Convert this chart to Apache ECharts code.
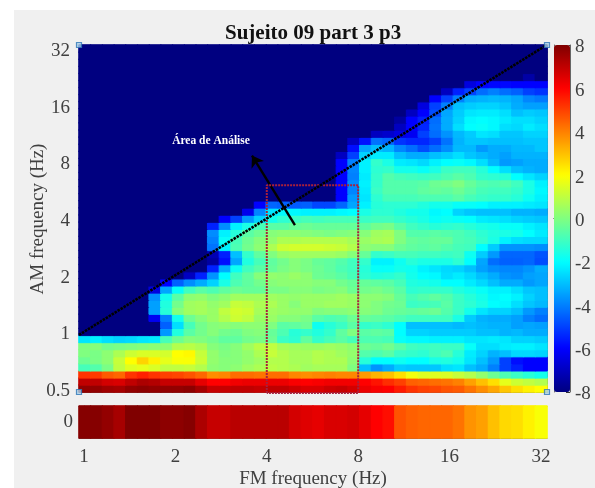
<!DOCTYPE html>
<html><head><meta charset="utf-8">
<script src="https://cdn.jsdelivr.net/npm/echarts@6/dist/echarts.min.js"></script>
<style>html,body{margin:0;padding:0;background:#fff}#c{position:absolute;left:0;top:0;width:595px;height:488px}</style>
</head><body><div id="c"></div>
<script>
const N=-8;
const fmTicks=[1,2,4,8,16,32];
const amTicks=[0.5,1,2,4,8,16,32];
const scaleTicks=[-8,-6,-4,-2,0,2,4,6,8];
// heat values, row 0 = lowest AM band, 40 FM columns
const modulation=[7.9,7.9,7.7,7.4,8,8,8,7.8,7.8,7.9,7.3,6.9,6.9,7.1,7.1,7.1,7.1,7.1,6.7,6.5,6.4,6.6,6.6,6.7,6.4,6,5.8,4.7,4.5,4.4,4.4,4.4,4.2,3.7,3.5,3,2.6,2.5,2.2,1.9];
const r00=[7.7,7.7,7.5,7.4,7.7,7.8,7.7,7.7,7.7,7.8,7.4,6.9,6.9,7,7,6.9,7,7,6.8,6.6,6.6,6.8,6.9,6.7,6.3,6.1,6,5.6,5.2,5,4.9,4.7,4.6,4.2,3.8,3.4,2.9,2.5,2.2,2];
const r01=[7,7,6.7,6.6,7,7.3,7.2,6.9,6.9,6.9,6.4,6,6,6.2,6.3,6.3,6.3,6.3,6.1,6,6.1,6.2,6.2,6.2,6,5.7,5.3,5,4.5,4.4,4.3,4.2,4,3.5,3,2.5,1.6,1.2,1,.8];
const r02=[5.2,5.1,4.6,4.4,5.2,5.5,5.2,5,4.9,4.7,4.4,3.8,3.9,4.3,4.3,4.2,4.3,4.3,3.9,3.8,3.9,4,3.9,3.9,3.6,3.2,3,2.5,1.8,1.5,1.5,1.4,1.1,.8,.3,-.3,-.8,-1.1,-1.4,-1.7];
const r03=[-.9,-.7,-.1,1,1.5,1.6,1.4,1,1,1.1,.8,.2,.1,.2,.5,.7,.9,.8,.7,.5,.6,.6,.6,0,-3,-3.7,-3.3,-2.8,-2.9,-2.9,-2.9,-2.5,-2.4,-3,-3.3,-4,-5,-5.5,-6,-6];
const r04=[-.3,-.1,.2,1.1,2,2.7,2.2,1.6,1.9,1.9,1.2,.3,.1,.1,.3,.5,.8,.8,.6,.6,.8,.7,.7,.2,-1.4,-2,-2,-1.8,-2,-2,-1.6,-1.5,-1.7,-2.4,-3,-3.6,-5,-5.8,-6,-6];
const r05=[0,-.1,.2,.7,1.2,1.4,1.4,1.3,2,2.1,1.1,.3,0,.1,.3,.7,1.1,.8,.6,.6,.8,.7,.5,.3,-.7,-.8,-.6,-1.1,-1.2,-1.3,-1,-.8,-1.4,-2.3,-2.7,-3.2,-3,-2.6,-2.6,-2.7];
const r06=[0,.1,-.2,-.1,0,.1,.2,.2,.8,.9,.7,.1,-.1,.1,.5,.9,1,.6,.5,.4,.4,.5,.4,.2,-.3,-.4,-.2,-.6,-1,-1.1,-1,-1.1,-1.1,-1.9,-2.5,-2.5,-2.3,-2.2,-2.2,-2.4];
const r07=[-2.4,-2.2,-2.5,-2.7,-2.6,-2.4,-2.3,-.9,-.3,.1,0,-.2,-.5,-.5,-.2,-.1,-.3,-1.1,-1.3,-.5,-1.2,-.9,-.6,-.9,-.8,-.8,-.9,-1.9,-2.1,-2.1,-2.2,-2.2,-2.2,-2.4,-2.4,-2.3,-2.4,-2.7,-2.7,-2.8];
const r08=[N,N,N,N,N,N,N,-3.6,-1.5,-.6,-.2,.1,-.2,-.3,0,.1,-.4,-.8,-1.4,-1.2,-1.5,-1.2,-.5,0,-.6,-.5,-.6,-2,-2.7,-2.7,-2.8,-2.8,-2.8,-2.8,-3,-3,-3.2,-3.1,-3.3,-3.3];
const r09=[N,N,N,N,N,N,N,-4.5,-2.5,-.9,-.2,.1,.2,.1,.2,.2,0,-.6,-.5,-.3,-1.8,-1.4,-1.1,-.6,-1.2,-1.1,-1.3,-2,-3,-3,-3,-3,-3.1,-3,-3.1,-3.2,-3.2,-3.5,-3.4,-3.5];
const r10=[N,N,N,N,N,N,-6.2,-4,-1.7,-.3,.1,.4,.8,1.2,1,.4,.4,.1,.1,-.1,-.6,-.8,-.7,-.3,-.4,-.5,-.6,-.8,-1,-1,-1,-1,-1.6,-2.8,-3.2,-3.3,-3.3,-3.5,-4,-4.3];
const r11=[N,N,N,N,N,N,-3.5,-1.4,.1,.5,.6,.4,1,1.3,1.2,.6,.5,.4,.3,.3,0,.1,.1,.2,.1,0,-.3,-.4,-.5,-.4,-.3,-.7,-1.1,-1.7,-2.4,-2.7,-2.7,-3,-3.6,-4];
const r12=[N,N,N,N,N,N,-3.5,-1.5,-.2,.5,.6,.3,.5,1.1,1,.7,.7,.4,.1,.4,.4,.5,.5,.4,.2,0,-.2,-.3,-1.1,-1,-.9,-.6,-1.1,-1.3,-1.6,-2,-2.1,-2.5,-2.9,-3.1];
const r13=[N,N,N,N,N,N,-3.8,-1.7,-.6,.2,.3,0,.2,.5,.5,.5,.5,.4,.3,.4,.4,.4,.5,.4,.2,.2,.1,-.4,-.9,-.7,-.5,-.7,-1.1,-1.4,-1.7,-2.1,-2,-2.2,-2.7,-3];
const r14=[N,N,N,N,N,N,-6.5,-3.4,-1.9,-1,-.6,-.8,-.5,-.3,-.4,-.4,-.1,-.1,.1,.1,-.1,0,.1,-.3,-.2,-.1,-.3,-.6,-1.3,-1.2,-1.2,-1.2,-1.5,-1.7,-1.9,-2.2,-2.2,-2.5,-2.9,-3];
const r15=[N,N,N,N,N,N,N,-6,-4.5,-3.8,-3.3,-2.7,-1.6,-.8,-.5,-.2,.1,.2,.2,.2,.1,.1,-.2,-.4,-.4,-.5,-.6,-.9,-1.5,-1.6,-1.7,-2,-2,-2.3,-2.6,-3,-3.3,-3.3,-3.6,-3.4];
const r16=[N,N,N,N,N,N,N,N,N,-7,-5.5,-3.7,-2,-1,-.5,.1,.3,.2,.4,.2,-.3,-.4,-.6,-.9,-1.3,-1.5,-1.4,-1.2,-1.7,-2,-2.1,-2.5,-2.3,-2.6,-3,-3.3,-3.7,-3.8,-3.5,-3.4];
const r17=[N,N,N,N,N,N,N,N,N,N,N,-5.5,-3.3,-1.8,-1,-.6,-.4,-.1,.1,-.1,-.3,-.5,-.8,-1,-1.4,-1.9,-1.9,-1.7,-1.8,-2.2,-2.4,-2.6,-2.7,-3,-3.5,-3.8,-3.9,-3.9,-3.7,-3.3];
const r18=[N,N,N,N,N,N,N,N,N,N,N,-7.5,-5.8,-3.4,-1.5,-.9,-.5,-.2,.1,-.1,-.4,-.5,-.7,-1,-1.2,-2.2,-2.2,-1.8,-1.4,-1.6,-1.6,-1.6,-1.3,-2,-3.4,-4.3,-4.5,-4.5,-4.4,-4.8];
const r19=[N,N,N,N,N,N,N,N,N,N,N,-7.2,-5.5,-3,-1.2,-.5,0,.4,.5,.5,.5,.5,.4,.1,-.4,-1.2,-1.1,-.9,-.9,-1,-1,-1.1,-1,-1.8,-2.8,-3.6,-4.4,-4.4,-4.4,-4.7];
const r20=[N,N,N,N,N,N,N,N,N,N,N,-4.2,-2.2,-.8,-.2,.2,.7,1.2,1.3,1.3,1.3,1.2,1.1,.8,.2,.1,.1,-.3,-.5,-.6,-.5,-.7,-.9,-1,-2,-2.8,-3.7,-3.7,-3.7,-3.8];
const r21=[N,N,N,N,N,N,N,N,N,N,N,-4,-1.9,-.9,-.3,.1,.3,.7,.7,.8,.8,.8,.8,.6,.4,.6,.7,0,-.4,-.5,-.4,-.4,-.8,-.9,-1.2,-1.6,-2.2,-2.5,-2.6,-2.6];
const r22=[N,N,N,N,N,N,N,N,N,N,N,-3.8,-2.2,-1.4,-.6,-.3,.1,.2,.2,.1,0,-.1,0,.1,.1,.5,.6,0,-.7,-.7,-.6,-.7,-.8,-1,-1.3,-1.5,-1.6,-1.7,-2,-2.3];
const r23=[N,N,N,N,N,N,N,N,N,N,N,-5.5,-3.8,-2.2,-1.6,-.9,-.6,-.6,-.4,-.3,-.4,-.4,-.4,-.4,-.5,-.2,-.1,-.6,-1,-1.2,-1.4,-1.3,-1.2,-1.4,-1.6,-1.7,-1.9,-1.9,-2.2,-2.4];
const r24=[N,N,N,N,N,N,N,N,N,N,N,N,-6,-5,-3.6,-2.7,-1.7,-1.3,-1.1,-.9,-1,-.9,-.9,-.9,-1.1,-1,-1,-1.2,-1.4,-1.6,-1.9,-1.8,-1.9,-2,-2.3,-2.4,-2.5,-2.7,-2.8,-2.9];
const r25=[N,N,N,N,N,N,N,N,N,N,N,N,N,N,-6.3,-3.9,-2.4,-2.1,-2.1,-2.2,-2.2,-2.2,-2.1,-2,-1.6,-1.3,-1.3,-1.5,-1.7,-1.7,-2.1,-2,-2.7,-2.9,-3,-3,-3,-3.2,-3.2,-3.3];
const r26=[N,N,N,N,N,N,N,N,N,N,N,N,N,N,N,-6,-4.4,-4.5,-4.6,-4.5,-4.9,-4.9,-4.4,-3.4,-2.2,-1.4,-1.3,-1.3,-1.3,-1.5,-1.7,-1.7,-1.9,-1.9,-2,-2.2,-2.2,-2.2,-2.3,-2.4];
const r27=[N,N,N,N,N,N,N,N,N,N,N,N,N,N,N,N,N,N,N,N,N,N,-6,-3.6,-2.4,-1.3,-.9,-.9,-.9,-.8,-.8,-.8,-.6,-.9,-1.1,-1.2,-1.2,-1.4,-1.8,-2.2];
const r28=[N,N,N,N,N,N,N,N,N,N,N,N,N,N,N,N,N,N,N,N,N,N,-6,-3.9,-2.3,-1.1,-.7,-.7,-.7,-.5,-.4,-.5,-.3,-.6,-.9,-1,-1,-1.2,-1.6,-2.1];
const r29=[N,N,N,N,N,N,N,N,N,N,N,N,N,N,N,N,N,N,N,N,N,N,-6,-3.8,-2.2,-1.2,-.7,-.7,-.7,-.6,-.3,-.2,0,-.4,-.7,-.8,-.7,-1,-1.6,-2.2];
const r30=[N,N,N,N,N,N,N,N,N,N,N,N,N,N,N,N,N,N,N,N,N,N,-6,-4,-2.3,-1.2,-.7,-.9,-1,-1.1,-1,-.8,-.6,-.8,-1.2,-1.3,-1.4,-2,-2.4,-2.7];
const r31=[N,N,N,N,N,N,N,N,N,N,N,N,N,N,N,N,N,N,N,N,N,N,-6,-3.9,-2.2,-1.3,-1.2,-1.7,-1.7,-1.9,-1.6,-1.1,-1,-1,-1.4,-2,-2.5,-3,-3.2,-3.3];
const r32=[N,N,N,N,N,N,N,N,N,N,N,N,N,N,N,N,N,N,N,N,N,N,-6,-4,-2.2,-1.2,-1.6,-2.3,-2.4,-2.6,-2.2,-2,-1.9,-2.1,-2.5,-3.1,-3.6,-3.5,-3.3,-3.3];
const r33=[N,N,N,N,N,N,N,N,N,N,N,N,N,N,N,N,N,N,N,N,N,N,-7,-5,-2.7,-2.3,-2.3,-3,-3.3,-3.3,-3,-2.8,-2.5,-2.9,-3.1,-3.3,-3.5,-3.2,-3.2,-3.2];
const r34=[N,N,N,N,N,N,N,N,N,N,N,N,N,N,N,N,N,N,N,N,N,N,N,-5.8,-3.4,-3,-3.2,-3.9,-4.3,-4.8,-4.3,-3.8,-3.1,-3.1,-3.6,-3.3,-3.3,-3.1,-3.1,-2.9];
const r35=[N,N,N,N,N,N,N,N,N,N,N,N,N,N,N,N,N,N,N,N,N,N,N,-7,-5.7,-4.2,-4.4,-5.2,-5.4,-5.4,-5,-4.2,-3.2,-2.9,-2.9,-3,-3,-3,-2.9,-2.9];
const r36=[N,N,N,N,N,N,N,N,N,N,N,N,N,N,N,N,N,N,N,N,N,N,N,N,N,-7,-6.8,-6.5,-6.2,-5,-4.3,-3.7,-3.1,-2.8,-2.4,-2.5,-2.9,-2.9,-2.7,-2.7];
const r37=[N,N,N,N,N,N,N,N,N,N,N,N,N,N,N,N,N,N,N,N,N,N,N,N,N,N,N,-7,-6,-5.4,-4.2,-3.3,-2.5,-2,-1.9,-2.1,-2.5,-2.6,-2.3,-2.5];
const r38=[N,N,N,N,N,N,N,N,N,N,N,N,N,N,N,N,N,N,N,N,N,N,N,N,N,N,N,-7.5,-6,-5.5,-4.3,-3.3,-2.7,-2.1,-2,-2.1,-2.3,-2.5,-2.5,-2.7];
const r39=[N,N,N,N,N,N,N,N,N,N,N,N,N,N,N,N,N,N,N,N,N,N,N,N,N,N,N,N,-7,-6,-4.8,-3.4,-2.8,-2.4,-2.3,-2.3,-2.5,-3,-2.8,-2.9];
const r40=[N,N,N,N,N,N,N,N,N,N,N,N,N,N,N,N,N,N,N,N,N,N,N,N,N,N,N,N,N,-6.5,-5,-4,-3,-2.8,-2.7,-2.7,-2.9,-3.3,-3.5,-3.5];
const r41=[N,N,N,N,N,N,N,N,N,N,N,N,N,N,N,N,N,N,N,N,N,N,N,N,N,N,N,N,N,N,-6,-5,-4,-3.3,-3.2,-3.1,-3.2,-3.4,-3.9,-4.1];
const r42=[N,N,N,N,N,N,N,N,N,N,N,N,N,N,N,N,N,N,N,N,N,N,N,N,N,N,N,N,N,N,N,-7,-5.5,-5,-4.3,-4,-4.3,-4.5,-5,-5.2];
const r43=[N,N,N,N,N,N,N,N,N,N,N,N,N,N,N,N,N,N,N,N,N,N,N,N,N,N,N,N,N,N,N,N,N,-6.5,-6,-5.9,-5.9,-6,-6,-6];
const r44=[N,N,N,N,N,N,N,N,N,N,N,N,N,N,N,N,N,N,N,N,N,N,N,N,N,N,N,N,N,N,N,N,N,N,N,N,N,N,-7.4,N];
const r45=[N,N,N,N,N,N,N,N,N,N,N,N,N,N,N,N,N,N,N,N,N,N,N,N,N,N,N,N,N,N,N,N,N,N,N,N,N,N,N,N];
const r46=r45, r47=r45, r48=r45;
const amRows=[r00,r01,r02,r03,r04,r05,r06,r07,r08,r09,r10,r11,r12,r13,r14,r15,r16,r17,r18,r19,r20,r21,r22,r23,r24,r25,r26,r27,r28,r29,r30,r31,r32,r33,r34,r35,r36,r37,r38,r39,r40,r41,r42,r43,r44,r45,r46,r47,r48];
// annotation positions in log2(Hz)
const boxLog2=[[2,-1.08],[2,2.585],[3,2.585],[3,-1.08],[2,-1.08]];
const unityLog2=[[-.055,-.055],[5.065,5.065]];
const arrowLog2=[[2.308,1.885],[1.838,3.11]];
const noteLog2=[1.39,3.367];
const note="Área de Análise";
const title="Sujeito 09 part 3 p3", xName="FM frequency (Hz)", yName="AM frequency (Hz)";
const xRange=[-.0547,5.066], yRange=[-1.062,5.062];
const handles=[[xRange[0],yRange[0]],[xRange[1],yRange[0]],[xRange[0],yRange[1]],[xRange[1],yRange[1]]];
const jet=['#000080','#0000ff','#0080ff','#00ffff','#80ff80','#ffff00','#ff8000','#ff0000','#800000'];

const serif='"Liberation Serif","Times New Roman",serif', ink='#404040', frame='#666666', tick='#333333';
const cols=amRows[0].map((_,i)=>i), rowsIdx=amRows.map((_,i)=>i);
const stroke=v=>echarts.color.lerp(Math.min(1,Math.max(0,(v+8)/16)),jet);
const cell=(x,y,v)=>({value:[x,y,v],itemStyle:{borderColor:stroke(v),borderWidth:1}});
const heat=[]; amRows.forEach((r,y)=>r.forEach((v,x)=>heat.push(cell(x,y,v))));
const strip=modulation.map((v,x)=>cell(x,0,v));
const log2=Math.log2;
const ticksX=fmTicks.map(log2), ticksY=amTicks.map(log2);
const hidCat=(data,gi)=>({type:'category',data,gridIndex:gi,show:false});
function ov(gi,pos,range,ticks,labels,len,pad){
  const a={type:'value',gridIndex:gi,position:pos,min:range[0],max:range[1],scale:true,
    axisLine:{show:true,onZero:false,lineStyle:{color:frame,width:1}},
    axisTick:{show:true,inside:true,length:len||5,customValues:ticks,lineStyle:{color:tick,width:1}},
    splitLine:{show:false},
    axisLabel:labels?{show:true,customValues:ticks,formatter:v=>'{t|'+(+Math.pow(2,v).toFixed(2))+'}',fontFamily:serif,fontSize:19,color:ink,margin:labels,
      rich:{t:{fontFamily:serif,fontSize:19,color:ink,padding:pad||0}}}:{show:false}};
  return a;
}
const xAxis=[
  hidCat(cols,0), ov(0,'bottom',xRange,ticksX), ov(0,'top',xRange,ticksX),
  hidCat(cols,1), ov(1,'bottom',xRange,ticksX,10,4), ov(1,'top',xRange,ticksX,0,4),
  {type:'value',gridIndex:2,position:'bottom',min:0,max:1,axisLine:{show:true,lineStyle:{color:frame}},axisTick:{show:false},axisLabel:{show:false},splitLine:{show:false}},
  {type:'value',gridIndex:2,position:'top',min:0,max:1,axisLine:{show:true,lineStyle:{color:frame}},axisTick:{show:false},axisLabel:{show:false},splitLine:{show:false}}
];
const yAxis=[
  hidCat(rowsIdx,0), ov(0,'left',yRange,ticksY,9,5,[5,0,0,0]), ov(0,'right',yRange,ticksY),
  {type:'category',data:['0'],gridIndex:1,position:'left',axisLine:{show:true,lineStyle:{color:frame}},axisTick:{show:false},axisLabel:{fontFamily:serif,fontSize:19,color:ink,margin:6}},
  {type:'value',gridIndex:2,position:'right',min:-8,max:8,interval:2,axisLine:{show:true,onZero:false,lineStyle:{color:frame}},axisTick:{show:true,inside:true,length:4,lineStyle:{color:tick}},splitLine:{show:false},axisLabel:{formatter:v=>'{t|'+v+'}',margin:5,rich:{t:{fontFamily:serif,fontSize:19,color:ink,padding:[5,0,0,0]}}}},
  {type:'value',gridIndex:2,position:'left',min:-8,max:8,interval:2,axisLine:{show:true,onZero:false,lineStyle:{color:frame}},axisTick:{show:false},axisLabel:{show:false},splitLine:{show:false}}
];
const option={
  animation:false,backgroundColor:'transparent',
  title:{text:title,left:220,top:18,textStyle:{fontFamily:serif,fontSize:21,fontWeight:'bold',color:'#111'}},
  grid:[{left:79,top:45,width:468,height:347},{left:79,top:406,width:468,height:32},{left:554,top:45,width:16,height:347}],
  xAxis,yAxis,
  visualMap:{type:'continuous',min:-8,max:8,dimension:2,seriesIndex:[0,1],left:554,top:45,itemWidth:16,itemHeight:347,padding:0,text:null,calculable:false,showLabel:false,hoverLink:false,inRange:{color:jet},textStyle:{fontSize:0}},
  series:[
    {type:'heatmap',xAxisIndex:0,yAxisIndex:0,data:heat,z:1,silent:true},
    {type:'heatmap',xAxisIndex:3,yAxisIndex:3,data:strip,z:1,silent:true},
    {type:'line',xAxisIndex:1,yAxisIndex:1,data:boxLog2,z:5,clip:false,symbol:'none',silent:true,lineStyle:{color:'#a8203c',width:2,type:[2,1]}},
    {type:'line',xAxisIndex:1,yAxisIndex:1,data:unityLog2,z:6,clip:false,symbol:'none',silent:true,lineStyle:{color:'#000',width:2.6,type:[2.5,1]},
      markLine:{silent:true,animation:false,symbol:['none','arrow'],symbolSize:11,label:{show:false},lineStyle:{color:'#000',width:2.4,type:'solid'},
        data:[[{coord:arrowLog2[0]},{coord:arrowLog2[1]}]]},
      markPoint:{silent:true,animation:false,symbol:'circle',symbolSize:0,data:[{coord:noteLog2,label:{show:true,formatter:note,position:'inside',fontFamily:serif,fontSize:11.5,fontWeight:'bold',color:'#fff'}}]}},
    {type:'scatter',xAxisIndex:1,yAxisIndex:1,data:handles,z:9,clip:false,symbol:'rect',symbolSize:5,silent:true,itemStyle:{color:'#a8cfe8',borderColor:'#2e75b6',borderWidth:1.2}}
  ],
  graphic:[
    {type:'rect',z:-10,shape:{x:14,y:10,width:581,height:478},style:{fill:'#f0f0f0'},silent:true},
    {type:'text',z:10,x:38,y:219,rotation:Math.PI/2,style:{text:yName,font:'19px '+serif,fill:ink,textAlign:'center',textVerticalAlign:'middle'},silent:true},
    {type:'text',z:10,x:313,y:479,style:{text:xName,font:'19px '+serif,fill:ink,textAlign:'center',textVerticalAlign:'middle'},silent:true}
  ]
};
const chart=echarts.init(document.getElementById('c'),null,{renderer:'canvas'});
chart.setOption(option);
</script></body></html>
